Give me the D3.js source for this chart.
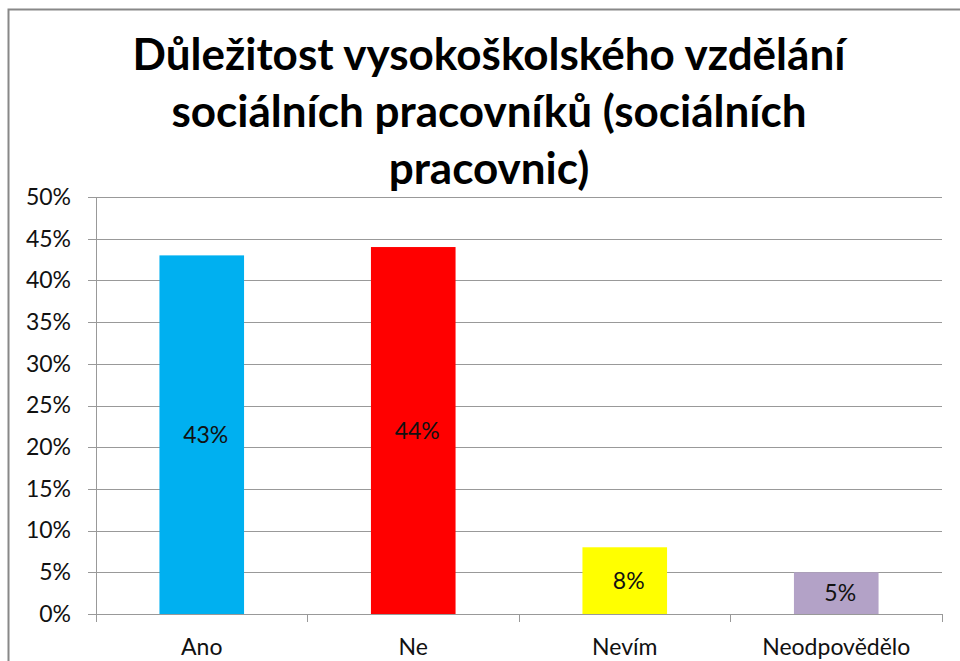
<!DOCTYPE html>
<html>
<head>
<meta charset="utf-8">
<script src="https://cdn.jsdelivr.net/npm/d3@7"></script>
<style>
  body { margin: 0; background: #fff; }
  svg { display: block; font-family: Lato, "Open Sans", sans-serif; }
</style>
</head>
<body>
<svg id="chart" width="960" height="661"></svg>
<script>
// chart data
var categories = ["Ano", "Ne", "Nevím", "Neodpovědělo"];
var values = [43, 44, 8, 5];
var barColors = ["#00B0F0", "#FF0000", "#FFFF00", "#B3A2C7"];
var yTicks = [0, 5, 10, 15, 20, 25, 30, 35, 40, 45, 50];
var titleLines = ["Důležitost vysokoškolského vzdělání", "sociálních pracovníků (sociálních", "pracovnic)"];

var labelSize = 23;

var svg = d3.select("#chart");

// outer frame (runs off the right and bottom edge)
svg.append("rect")
    .attr("x", 8.5).attr("y", 9.5)
    .attr("width", 1000).attr("height", 1000)
    .attr("fill", "none")
    .attr("stroke", "#888")
    .attr("stroke-width", 2);

var margin = { top: 197, left: 96, right: 18, bottom: 47 },
    width = 960 - margin.left - margin.right,
    height = 661 - margin.top - margin.bottom;

var g = svg.append("g")
    .attr("transform", "translate(" + margin.left + "," + margin.top + ")");

var x = d3.scaleBand()
    .domain(categories)
    .range([0, width])
    .paddingInner(0.6)
    .paddingOuter(0.3);

var y = d3.scaleLinear()
    .domain([0, 50])
    .range([height, 0]);

// gridlines
g.append("g")
    .attr("class", "grid")
    .call(d3.axisLeft(y).tickValues(yTicks).tickSize(-width).tickFormat(""))
    .call(function (s) {
        s.select(".domain").remove();
        s.selectAll("line").attr("stroke", "#999").attr("shape-rendering", "crispEdges");
    });

// y axis
g.append("g")
    .call(d3.axisLeft(y).tickValues(yTicks).tickSize(8).tickPadding(17)
        .tickFormat(function (d) { return d + "%"; }))
    .call(function (s) {
        s.select(".domain").attr("stroke", "#999").attr("shape-rendering", "crispEdges");
        s.selectAll("line").attr("stroke", "#999").attr("shape-rendering", "crispEdges");
        s.selectAll("text").attr("font-size", labelSize).attr("fill", "#111")
            .attr("font-family", "Lato, sans-serif");
    });

// bars
g.selectAll("rect.bar")
    .data(values)
    .enter()
    .append("rect")
    .attr("class", "bar")
    .attr("x", function (d, i) { return x(categories[i]); })
    .attr("y", function (d) { return y(d); })
    .attr("width", x.bandwidth())
    .attr("height", function (d) { return height - y(d); })
    .attr("fill", function (d, i) { return barColors[i]; });

// value labels
g.selectAll("text.val")
    .data(values)
    .enter()
    .append("text")
    .attr("class", "val")
    .attr("x", function (d, i) { return x(categories[i]) + x.bandwidth() / 2 + 4; })
    .attr("y", function (d) { return y(d / 2); })
    .attr("dy", "0.35em")
    .attr("text-anchor", "middle")
    .attr("font-size", labelSize)
    .attr("fill", "#111")
    .text(function (d) { return d + "%"; });

// x axis: ticks between categories
var step = x.step();
var boundaries = d3.range(categories.length + 1).map(function (i) { return i * step; });
var xAxis = g.append("g").attr("transform", "translate(0," + height + ")");
xAxis.append("line")
    .attr("x1", 0).attr("x2", width)
    .attr("y1", 0).attr("y2", 0)
    .attr("stroke", "#999")
    .attr("shape-rendering", "crispEdges");
xAxis.selectAll("line.tick")
    .data(boundaries)
    .enter()
    .append("line")
    .attr("class", "tick")
    .attr("x1", function (d) { return d; }).attr("x2", function (d) { return d; })
    .attr("y1", 0).attr("y2", 8)
    .attr("stroke", "#999")
    .attr("shape-rendering", "crispEdges");
xAxis.selectAll("text")
    .data(categories)
    .enter()
    .append("text")
    .attr("x", function (d) { return x(d) + x.bandwidth() / 2; })
    .attr("y", 41)
    .attr("text-anchor", "middle")
    .attr("font-size", labelSize)
    .attr("fill", "#111")
    .text(function (d) { return d; });

// title, sized so the first line spans like the reference
var title = svg.append("g").attr("font-weight", "bold").attr("fill", "#000");
var baselines = [70, 127, 184];
var tl = title.selectAll("text")
    .data(titleLines)
    .enter()
    .append("text")
    .attr("x", 489)
    .attr("y", function (d, i) { return baselines[i]; })
    .attr("text-anchor", "middle")
    .attr("font-size", 38)
    .text(function (d) { return d; });
var w0 = tl.node().getComputedTextLength();
var fs = 38 * 713 / w0;
tl.attr("font-size", fs);
</script>
</body>
</html>
